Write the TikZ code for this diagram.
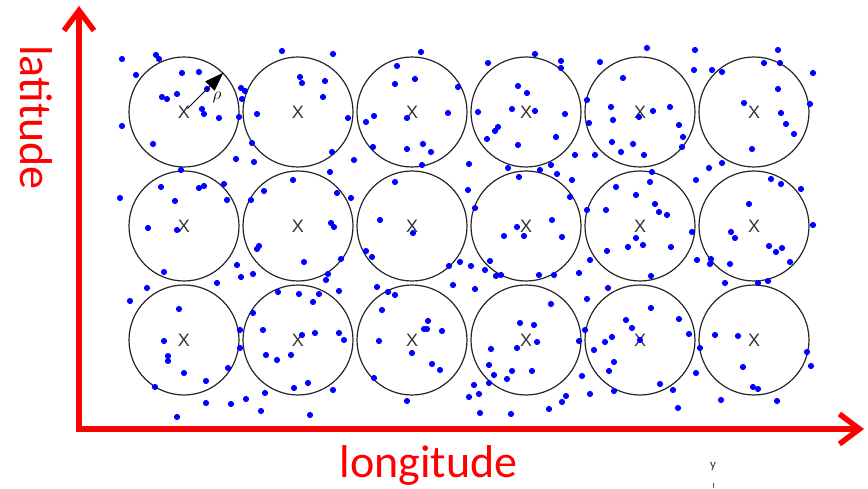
\documentclass[tikz,border=0pt]{standalone}
\usepackage{fontspec}
\setmainfont{Carlito}
\newfontfamily\xfont{Liberation Sans}
\usetikzlibrary{arrows.meta,calc}
\begin{document}
\begin{tikzpicture}[x=1pt,y=-1pt,
  cell/.style={circle,draw=black!85,line width=1.2pt,minimum size=110pt,inner sep=0pt,font=\xfont\fontsize{18}{18}\selectfont,text=black!80},
  dot/.style={fill=blue},
  axis/.style={draw=red,line width=5.5pt,line join=miter},
  lbl/.style={text=red,font=\fontsize{46}{46}\selectfont,inner sep=0pt}]
\useasboundingbox (0,0) rectangle (868,489);
% circles
\foreach \c/\x in {1/184,2/298,3/412,4/526,5/640,6/754}{
  \foreach \r/\y in {1/112,2/226,3/340}{
    \node[cell] (c\r\c) at (\x,\y) {X};
  }
}
% dots
\foreach \p in {
(122,59),(156,55),(159,59),(136,75),(182,73),(199,72),(177,94),(162,97),(167,99),(202,109),(204,114),(219,118),(122,126),(153,144),(207,89),(241,88),(245,91),(242,99),(239,117),(257,114),(282,51),(333,54),(300,77),(302,83),(325,81),(323,97),(348,118),(252,143),(332,152),(236,159),(254,162),(181,170),(330,172),(293,180),(264,191),(337,193),(161,187),(199,188),(204,186),(224,184),(175,201),(227,200),(251,200),(120,198),(148,228),(177,230),(331,223),(334,227),
(421,52),(397,66),(415,79),(395,84),(458,87),(374,116),(366,122),(407,118),(448,113),(373,147),(407,149),(423,144),(431,152),(422,165),(354,160),(469,164),(395,182),(468,190),(351,198),(475,208),(380,220),(488,63),(535,54),(561,61),(561,68),(518,86),(527,93),(478,112),(512,109),(535,111),(565,114),(498,127),(495,131),(487,139),(518,145),(556,137),(575,155),(508,168),(540,170),(551,165),(557,174),(519,177),(572,180),(570,197),(587,100),(589,123),(587,210),(552,220),(517,227),
(647,48),(600,62),(623,78),(611,107),(613,120),(639,117),(653,111),(670,107),(679,125),(683,137),(682,147),(612,142),(633,144),(621,152),(644,155),(595,155),(695,50),(694,70),(712,70),(722,72),(778,50),(764,63),(780,63),(813,73),(778,89),(744,103),(810,104),(781,113),(786,124),(794,134),(752,149),(722,163),(709,168),(652,172),(696,180),(650,182),(616,187),(636,195),(655,204),(659,212),(667,215),(606,210),(771,179),(781,184),(801,189),(749,204),(813,225),
(164,272),(147,288),(130,301),(179,309),(164,341),(168,356),(168,361),(184,373),(206,381),(228,368),(155,387),(206,403),(231,404),(246,399),(265,393),(261,411),(177,417),(310,415),(217,283),(237,265),(241,277),(253,274),(257,249),(259,246),(304,262),(341,259),(328,274),(326,280),(339,291),(278,292),(299,294),(319,294),(313,302),(253,313),(240,330),(240,348),(263,330),(302,335),(315,333),(339,333),(344,340),(266,355),(277,360),(291,355),(294,388),(308,383),(333,390),
(413,233),(366,251),(372,257),(449,266),(460,262),(471,266),(490,261),(485,270),(496,276),(501,275),(453,285),(475,289),(377,287),(388,292),(395,295),(382,310),(428,321),(424,329),(427,329),(442,331),(379,341),(412,353),(432,364),(440,370),(374,378),(407,401),(474,385),(469,397),(479,394),(480,413),(511,414),(504,236),(524,236),(562,237),(539,275),(554,275),(579,273),(590,260),(587,299),(551,304),(520,323),(534,325),(537,342),(517,348),(491,349),(489,365),(494,375),(512,371),(532,371),(507,379),(489,383),(585,330),(579,341),(582,376),(590,394),(566,396),(562,402),(549,409),
(636,238),(628,247),(643,245),(607,251),(671,247),(692,232),(651,276),(697,260),(608,288),(731,232),(735,238),(711,259),(710,264),(730,264),(769,246),(776,252),(782,248),(790,262),(768,281),(758,283),(725,283),(651,308),(626,320),(632,328),(612,337),(605,342),(640,340),(594,350),(679,319),(689,334),(614,362),(609,371),(660,384),(673,390),(614,391),(678,408),(696,373),(700,348),(715,335),(738,336),(743,367),(753,387),(758,389),(721,400),(777,401),(807,352),(811,366)
}{
  \fill[dot] \p circle (3.1pt);
}
% radius arrow
\draw[line width=1pt,-{Triangle[length=19pt,width=13pt]},shorten <=5pt] (c11.center) -- (c11.45);
\node[font=\fontsize{19}{19}\selectfont] (rho) at (217,97) {$\rho$};
% axes
\coordinate (o) at (79,429);
\coordinate (ytop) at (79,6);
\coordinate (xend) at (864,429);
\draw[axis,{Straight Barb[length=20pt,width=30pt]}-{Straight Barb[length=20pt,width=30pt]}] (ytop) -- (o) -- (xend);
\node[lbl,rotate=-90,anchor=base] (lat) at (20,117.5) {latitude};
\node[lbl,anchor=base] (lon) at (428.5,477) {longitude};
\node[font=\fontsize{13}{13}\selectfont,text=black!80,inner sep=0pt] (ylab) at (713,466) {y};
\coordinate (t1) at (713,483);
\coordinate (t2) at (713,488);
\draw[black!70,line width=0.9pt] (t1) -- (t2);
\end{tikzpicture}
\end{document}
